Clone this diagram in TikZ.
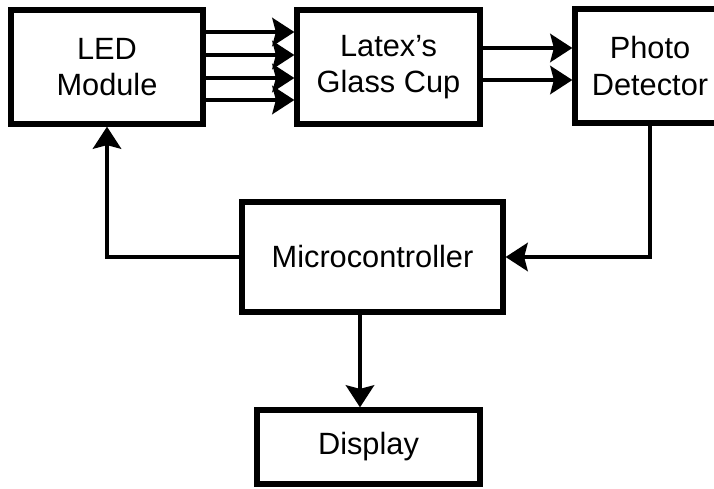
\documentclass[tikz,border=0pt]{standalone}
\usepackage{fontspec}
\setmainfont{Liberation Sans}
\usetikzlibrary{arrows.meta}

\tikzset{
  block/.style={draw, line width=3pt, align=center, inner sep=0pt,
    font=\fontsize{17.5}{20.5}\selectfont},
}

\begin{document}
\begin{tikzpicture}[->, x=0.02cm, y=-0.02cm, line width=2.8pt,
    >={Stealth[length=0.44cm,width=0.56cm,inset=0.07cm]}]
  \clip (0,0) rectangle (714,488);

  \node[block, minimum width=3.84cm, minimum height=2.28cm] (led)   at (107,67)    {LED\\Module};
  \node[block, minimum width=3.66cm, minimum height=2.28cm] (glass) at (388.5,67)  {Latex's\\Glass Cup};
  \node[block, minimum width=3.0cm,  minimum height=2.28cm] (photo) at (650,66)    {Photo\\Detector};
  \node[block, minimum width=5.22cm, minimum height=2.2cm]  (mcu)   at (372.5,257) {Microcontroller};
  \node[block, minimum width=4.46cm, minimum height=1.48cm] (disp)  at (368.5,447) {Display};

  % light from the LEDs into the cup
  \foreach \y in {32,55,78,100}
    \draw (led.east |- 0,\y) -- (glass.west |- 0,\y);
  % light from the cup onto the detector
  \foreach \y in {48,80}
    \draw (glass.east |- 0,\y) -- (photo.west |- 0,\y);

  \draw (photo.south) |- (mcu.east);
  \draw (mcu.west) -| (led.south);
  \draw ([xshift=-0.25cm]mcu.south) -- ([xshift=-0.25cm]mcu.south |- disp.north);
\end{tikzpicture}
\end{document}
